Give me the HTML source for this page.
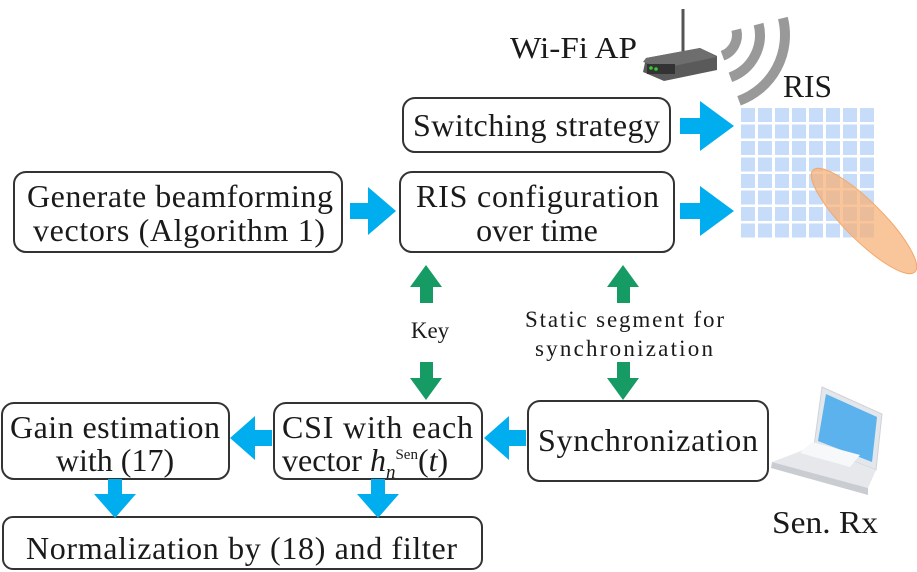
<!DOCTYPE html>
<html><head><meta charset="utf-8"><style>
html,body{margin:0;padding:0;background:#fff;}
svg{display:block;}
text{font-family:"Liberation Serif",serif;fill:#1a1a1a;}
</style></head><body>
<svg width="917" height="572" viewBox="0 0 917 572" xmlns="http://www.w3.org/2000/svg">
<g fill="#c6dcf8">
<g id="row">
<rect x="741" y="108" width="14" height="14"/><rect x="758" y="108" width="14" height="14"/><rect x="775" y="108" width="14" height="14"/><rect x="792" y="108" width="14" height="14"/><rect x="809" y="108" width="14" height="14"/><rect x="826" y="108" width="14" height="14"/><rect x="843" y="108" width="14" height="14"/><rect x="860" y="108" width="14" height="14"/>
</g>
<use href="#row" y="16.5"/><use href="#row" y="33"/><use href="#row" y="49.5"/><use href="#row" y="66"/><use href="#row" y="82.5"/><use href="#row" y="99"/><use href="#row" y="115.5"/>
</g>
<ellipse cx="864" cy="221" rx="72" ry="19" transform="rotate(45 864 221)" fill="#f7b27a" fill-opacity="0.75" stroke="#f4a868" stroke-width="1"/>
<text x="783" y="97" font-size="32" textLength="49" lengthAdjust="spacingAndGlyphs">RIS</text>
<g fill="none" stroke="#999" stroke-width="10">
<path d="M736.3 29.7 A22 22 0 0 1 722.5 55.7"/>
<path d="M758.6 24.1 A45 45 0 0 1 730.4 77.3"/>
<path d="M782.9 18.1 A70 70 0 0 1 739 100.8"/>
</g>
<line x1="683" y1="9" x2="683" y2="52" stroke="#555" stroke-width="3"/>
<path d="M646 58 L700 48 L717 56 L717 70 L664 81 L643 72 Z" fill="#5a5a5a"/>
<path d="M643 62 L664 68 L717 57 L700 48 L646 58 Z" fill="#6e6e6e"/>
<rect x="647" y="64" width="28" height="10" fill="#333"/>
<circle cx="651" cy="68" r="1.8" fill="#3c3"/><circle cx="656" cy="69" r="1.8" fill="#3c3"/>
<text x="510" y="58" font-size="31" textLength="127" lengthAdjust="spacingAndGlyphs">Wi-Fi AP</text>
<g fill="#fff" stroke="#333" stroke-width="2">
<rect x="403" y="98" width="267" height="54" rx="12"/>
<rect x="14" y="172" width="328" height="80" rx="12"/>
<rect x="400" y="172" width="274" height="80" rx="12"/>
<rect x="2" y="403" width="227" height="76" rx="12"/>
<rect x="274" y="403" width="208" height="76" rx="12"/>
<rect x="528" y="401" width="240" height="80" rx="12"/>
<rect x="3" y="517" width="479" height="52" rx="10"/>
</g>
<g font-size="32" lengthAdjust="spacingAndGlyphs">
<text x="413" y="136" textLength="247">Switching strategy</text>
<text x="27" y="207" textLength="306">Generate beamforming</text>
<text x="33" y="241" textLength="292">vectors (Algorithm 1)</text>
<text x="416" y="207" textLength="243">RIS configuration</text>
<text x="537" y="241" text-anchor="middle">over time</text>
<text x="10" y="438" textLength="210">Gain estimation</text>
<text x="115" y="471" text-anchor="middle">with (17)</text>
<text x="282" y="438" textLength="191">CSI with each</text>
<text x="538" y="451" textLength="220">Synchronization</text>
<text x="26" y="559" textLength="431">Normalization by (18) and filter</text>
</g>
<text x="282" y="471" font-size="32">vector <tspan font-style="italic">h</tspan><tspan font-style="italic" font-size="19" dy="7">n</tspan><tspan font-size="15" dy="-19">Sen</tspan><tspan dy="12">(</tspan><tspan font-style="italic">t</tspan>)</text>
<g fill="#00adef">
<path d="M680 118 L700 118 L700 101 L734 126 L700 151 L700 134 L680 134 Z"/>
<path d="M680 203 L700 203 L700 186 L734 211 L700 236 L700 219 L680 219 Z"/>
<path d="M350 203 L368 203 L368 187 L396 211 L368 235 L368 219 L350 219 Z"/>
<path d="M272 430 L255 430 L255 416 L230 438 L255 460 L255 446 L272 446 Z"/>
<path d="M526 430 L509 430 L509 416 L484 438 L509 460 L509 446 L526 446 Z"/>
<path d="M108 479 L122 479 L122 494 L136 494 L115 518 L94 494 L108 494 Z"/>
<path d="M371 479 L385 479 L385 494 L399 494 L378 518 L357 494 L371 494 Z"/>
</g>
<g fill="#169b64">
<path d="M420 303 L433 303 L433 287 L442 287 L426 265 L410 287 L420 287 Z"/>
<path d="M420 362 L433 362 L433 378 L442 378 L426 400 L410 378 L420 378 Z"/>
<path d="M617 303 L630 303 L630 287 L639 287 L623 265 L607 287 L617 287 Z"/>
<path d="M617 362 L630 362 L630 378 L639 378 L623 400 L607 378 L617 378 Z"/>
</g>
<g font-size="23" lengthAdjust="spacingAndGlyphs">
<text x="430" y="338" text-anchor="middle">Key</text>
<text x="525" y="327" textLength="199">Static segment for</text>
<text x="535" y="356" textLength="178">synchronization</text>
</g>
<path d="M822 387 L882 414 L876 470 L814 446 Z" fill="#e3e6ea" stroke="#cfd3d8"/>
<path d="M826 394 L877 417 L872 462 L818 441 Z" fill="#5bb2ec"/>
<path d="M814 446 L876 470 L868 488 L772 462 Z" fill="#e6e8ec"/>
<path d="M772 462 L868 488 L868 495 L771 468 Z" fill="#c9ccd1"/>
<path d="M800 453 L850 467 L860 455 L812 442 Z" fill="#f7f8fa"/>
<text x="772" y="533" font-size="32" textLength="106" lengthAdjust="spacingAndGlyphs">Sen. Rx</text>
</svg>
</body></html>
